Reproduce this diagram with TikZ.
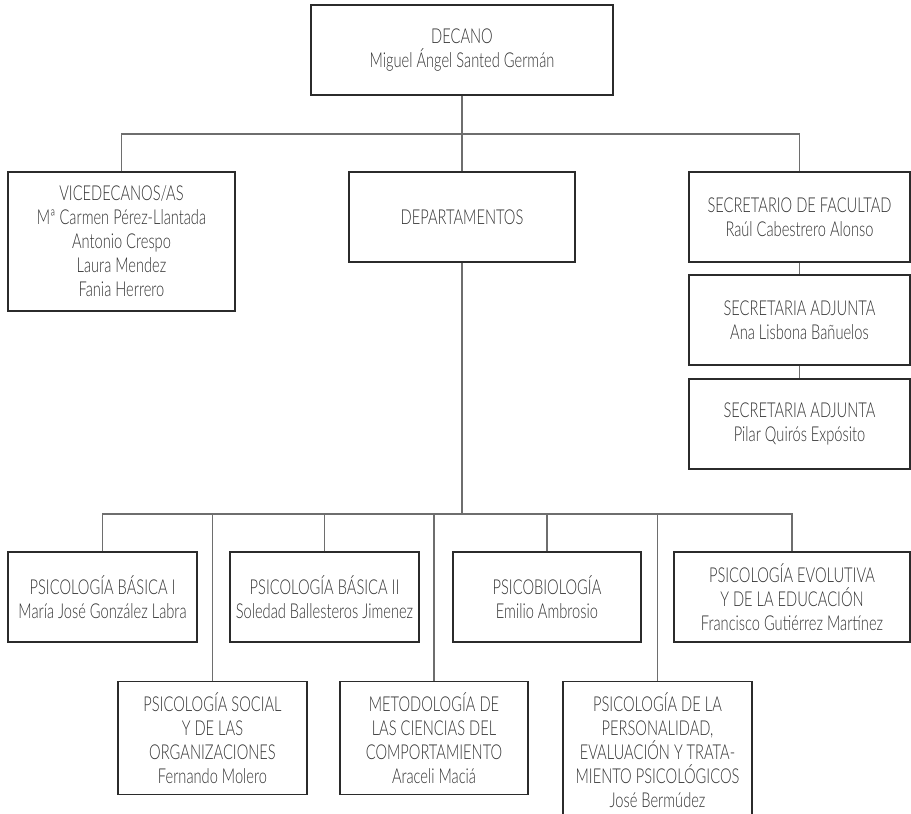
\documentclass[tikz,border=0pt]{standalone}
\usepackage{fontspec}
\setmainfont{Lato}[UprightFont=* Light, FakeStretch=0.715]
\usepackage{tikz}
\definecolor{boxline}{HTML}{2B2B2B}
\definecolor{wire}{HTML}{6E6E6E}
\definecolor{ink}{HTML}{333333}

\begin{document}
\begin{tikzpicture}[x=1pt,y=-1pt]
	\tikzstyle{box}=[rectangle,draw=boxline,line width=1.3pt,fill=white,text=ink,align=center,inner sep=0pt,
		font=\fontsize{20.5}{24}\selectfont]
	\tikzstyle{link}=[draw=wire,line width=1.6pt]
	
	\useasboundingbox (0,0) rectangle (911,814);
	\clip (0,0) rectangle (911,814);
	
	\node[box,minimum width=302,minimum height=90] at (462,50) (dec) {DECANO\\Miguel Ángel Santed Germán};
	
	\node[box,minimum width=227,minimum height=139] at (121.5,241.5) (vice) {VICEDECANOS/AS\\Mª Carmen Pérez-Llantada\\Antonio Crespo\\Laura Mendez\\Fania Herrero};
	\node[box,minimum width=226,minimum height=90] at (462,217) (dep) {DEPARTAMENTOS};
	\node[box,minimum width=221,minimum height=90] at (799.5,217) (sec) {SECRETARIO DE FACULTAD\\Raúl Cabestrero Alonso};
	\node[box,minimum width=221,minimum height=90] at (799.5,320) (adj1) {SECRETARIA ADJUNTA\\Ana Lisbona Bañuelos};
	\node[box,minimum width=221,minimum height=90] at (799.5,424) (adj2) {SECRETARIA ADJUNTA\\Pilar Quirós Expósito};
	
	\node[box,minimum width=189,minimum height=90] at (102.5,597) (bas1) {PSICOLOGÍA BÁSICA I\\María José González Labra};
	\node[box,minimum width=189,minimum height=90] at (324.5,597) (bas2) {PSICOLOGÍA BÁSICA II\\Soledad Ballesteros Jimenez};
	\node[box,minimum width=188,minimum height=90] at (547,597) (bio) {PSICOBIOLOGÍA\\Emilio Ambrosio};
	\node[box,minimum width=236,minimum height=90] at (792,597) (evo) {PSICOLOGÍA EVOLUTIVA\\Y DE LA EDUCACIÓN\\Francisco Gutiérrez Martínez};
	
	\node[box,minimum width=189,minimum height=113,anchor=north] at (212.5,681) (soc) {PSICOLOGÍA SOCIAL\\Y DE LAS\\ORGANIZACIONES\\Fernando Molero};
	\node[box,minimum width=188,minimum height=113,anchor=north] at (434,681) (met) {METODOLOGÍA DE\\LAS CIENCIAS DEL\\COMPORTAMIENTO\\Araceli Maciá};
	\node[box,minimum width=189,minimum height=137,anchor=north] at (657.5,681) (per) {PSICOLOGÍA DE LA\\PERSONALIDAD,\\EVALUACIÓN Y TRATA-\\MIENTO PSICOLÓGICOS\\José Bermúdez};
	
	\coordinate (topbus) at (462,134);
	\coordinate (depbus) at (462,514);
	
	\draw[link] (dec) -- (dep);
	\draw[link] (vice.north) |- (topbus);
	\draw[link] (topbus) -| (sec.north);
	\draw[link] (sec) -- (adj1);
	\draw[link] (adj1) -- (adj2);
	
	\draw[link] (dep) -- (depbus);
	\draw[link] (bas1.north) |- (depbus);
	\draw[link] (depbus) -| (evo.north);
	\draw[link] (bas2.north) -- (bas2.north |- depbus);
	\draw[link] (bio.north) -- (bio.north |- depbus);
	\draw[link] (soc.north) -- (soc.north |- depbus);
	\draw[link] (met.north) -- (met.north |- depbus);
	\draw[link] (per.north) -- (per.north |- depbus);
\end{tikzpicture}
\end{document}
